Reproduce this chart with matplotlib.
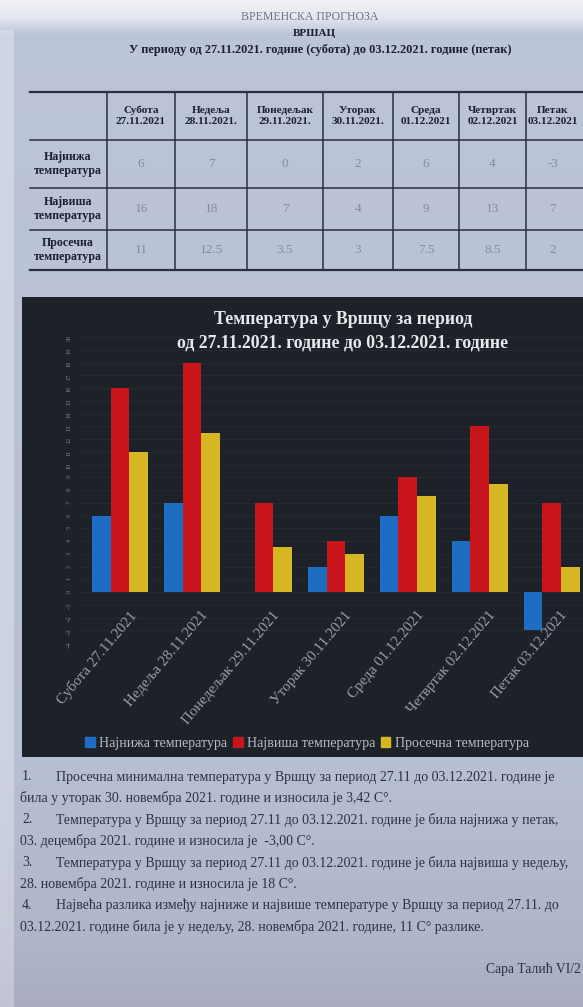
import numpy as np
import matplotlib.pyplot as plt
from matplotlib.patches import Rectangle, Patch

plt.rcParams['font.family'] = ['Liberation Serif', 'DejaVu Serif']

# ------------------------------- Подаци -------------------------------
dani = ['Субота', 'Недеља', 'Понедељак', 'Уторак', 'Среда', 'Четвртак', 'Петак']
datumi = ['27.11.2021', '28.11.2021.', '29.11.2021.', '30.11.2021.', '01.12.2021', '02.12.2021', '03.12.2021']
najniza = [6, 7, 0, 2, 6, 4, -3]
najvisa = [16, 18, 7, 4, 9, 13, 7]
prosecna = [11, 12.5, 3.5, 3, 7.5, 8.5, 2]
redovi = ['Најнижа\nтемпература', 'Највиша\nтемпература', 'Просечна\nтемпература']
serije = ['Најнижа температура', 'Највиша температура', 'Просечна температура']
boje = ['#1f6cc4', '#c8151b', '#d6b623']

zakljucci = [
    ('1.', 'Просечна минимална температура у Вршцу за период 27.11 до 03.12.2021. године је'),
    ('', 'била у уторак 30. новембра 2021. године и износила је 3,42 C°.'),
    ('2.', 'Температура у Вршцу за период 27.11 до 03.12.2021. године је била најнижа у петак,'),
    ('', '03. децембра 2021. године и износила је  -3,00 C°.'),
    ('3.', 'Температура у Вршцу за период 27.11 до 03.12.2021. године је била највиша у недељу,'),
    ('', '28. новембра 2021. године и износила је 18 C°.'),
    ('4.', 'Највећа разлика између најниже и највише температуре у Вршцу за период 27.11. до'),
    ('', '03.12.2021. године била је у недељу, 28. новембра 2021. године, 11 C° разлике.'),
]

W, H = 583, 1007
fig = plt.figure(figsize=(W / 100, H / 100), dpi=100)

# ------------------------------- Папир (позадина) -------------------------------
pg = fig.add_axes([0, 0, 1, 1])
pg.set_xlim(0, W)
pg.set_ylim(H, 0)
pg.axis('off')

stope = [0, 16, 34, 300, 760, 940, 1007]
rr = [0.95, 0.90, 0.74, 0.73, 0.72, 0.69, 0.66]
gg = [0.95, 0.91, 0.77, 0.76, 0.75, 0.71, 0.67]
bb = [0.96, 0.94, 0.85, 0.84, 0.83, 0.79, 0.76]
yy = np.arange(H)
grad = np.stack([np.interp(yy, stope, rr), np.interp(yy, stope, gg), np.interp(yy, stope, bb)], axis=1)[:, None, :]
pg.imshow(grad, extent=[0, W, H, 0], aspect='auto', interpolation='bilinear')
pg.add_patch(Rectangle((0, 30), 14, H - 30, color='white', alpha=0.3, lw=0))

# ------------------------------- Заглавље -------------------------------
tamna = '#1c2030'
pg.text(310, 17, 'ВРЕМЕНСКА ПРОГНОЗА', ha='center', va='center', fontsize=8.5, color='#6b7186')
pg.text(314, 34, 'ВРШАЦ', ha='center', va='center', fontsize=8, fontweight='bold', color=tamna)
pg.text(320, 50, 'У периоду од 27.11.2021. године (субота) до 03.12.2021. године (петак)',
        ha='center', va='center', fontsize=8.9, fontweight='bold', color=tamna)

# ------------------------------- Табела -------------------------------
red_y = [92, 140, 188, 230, 270]
kol_x = [30, 107, 175, 247, 323, 393, 459, 526, 579]
for i, y in enumerate(red_y):
    pg.plot([30, W], [y, y], color='#2a2f40', lw=1.6 if i in (0, 4) else 1.1)
for x in kol_x[1:-1]:
    pg.plot([x, x], [red_y[0], red_y[-1]], color='#2a2f40', lw=1.1)

for j in range(len(dani)):
    cx = (kol_x[j + 1] + kol_x[j + 2]) / 2
    pg.text(cx, (red_y[0] + red_y[1]) / 2, dani[j] + '\n' + datumi[j], ha='center', va='center',
            fontsize=8.1, fontweight='bold', color=tamna, linespacing=1.25)
    for r, vred in enumerate([najniza, najvisa, prosecna]):
        pg.text(cx, (red_y[r + 1] + red_y[r + 2]) / 2, f'{vred[j]:g}', ha='center', va='center',
                fontsize=9.5, color='#858ba0')
for r in range(3):
    pg.text(68, (red_y[r + 1] + red_y[r + 2]) / 2, redovi[r], ha='center', va='center',
            fontsize=8.6, fontweight='bold', color=tamna, linespacing=1.25)

# ------------------------------- Графикон -------------------------------
pg.add_patch(Rectangle((22, 297), 620, 460, color='#1d2229', lw=0))

ax = fig.add_axes([77 / W, 1 - 643 / H, 507 / W, 306 / H])
ax.patch.set_alpha(0)
x = np.arange(len(dani))
w = 0.26
ax.bar(x - w, najniza, w, color=boje[0], zorder=3)
ax.bar(x, najvisa, w, color=boje[1], zorder=3)
ax.bar(x + w, prosecna, w, color=boje[2], zorder=3)
ax.set_xlim(-0.6, 6.45)
ax.set_ylim(-4, 20)
for s in ax.spines.values():
    s.set_visible(False)
ax.set_yticks(range(-4, 21))
ax.tick_params(axis='y', length=0, labelsize=4.5, labelcolor='#80858e', pad=4, labelrotation=90)
ax.set_xticks([])
ax.yaxis.grid(True, color='#272c33', lw=0.6, zorder=0)

for i in range(len(dani)):
    ax.text(i + 0.12, -1.3, dani[i] + ' ' + datumi[i].rstrip('.'), rotation=50, ha='right', va='top',
            rotation_mode='anchor', fontsize=10.8, color='#9a9ea6')

fig.text(343 / W, 1 - 320 / H, 'Температура у Вршцу за период', ha='center', va='center',
         fontsize=12.8, fontweight='bold', color='#e6e8ec', zorder=5)
fig.text(343 / W, 1 - 343 / H, 'од 27.11.2021. године до 03.12.2021. године', ha='center', va='center',
         fontsize=12.8, fontweight='bold', color='#e6e8ec', zorder=5)

rucke = [Patch(color=c) for c in boje]
fig.legend(rucke, serije, loc='center', bbox_to_anchor=(307 / W, 1 - 743 / H), ncol=3, frameon=False,
           handlelength=0.7, handleheight=0.7, columnspacing=0.4, handletextpad=0.3,
           fontsize=10, labelcolor='#b8bcc4')

# ------------------------------- Закључци -------------------------------
for k, (br, tekst) in enumerate(zakljucci):
    y = 777 + k * 21.4
    if br:
        pg.text(22, y, br, ha='left', va='center', fontsize=10, color='#2c3142')
        pg.text(56, y, tekst, ha='left', va='center', fontsize=10, color='#2c3142')
    else:
        pg.text(20, y, tekst, ha='left', va='center', fontsize=10, color='#2c3142')

pg.text(486, 969, 'Сара Талић VI/2', ha='left', va='center', fontsize=9.8, color='#2c3142')

fig.savefig('out.png', dpi=100)
